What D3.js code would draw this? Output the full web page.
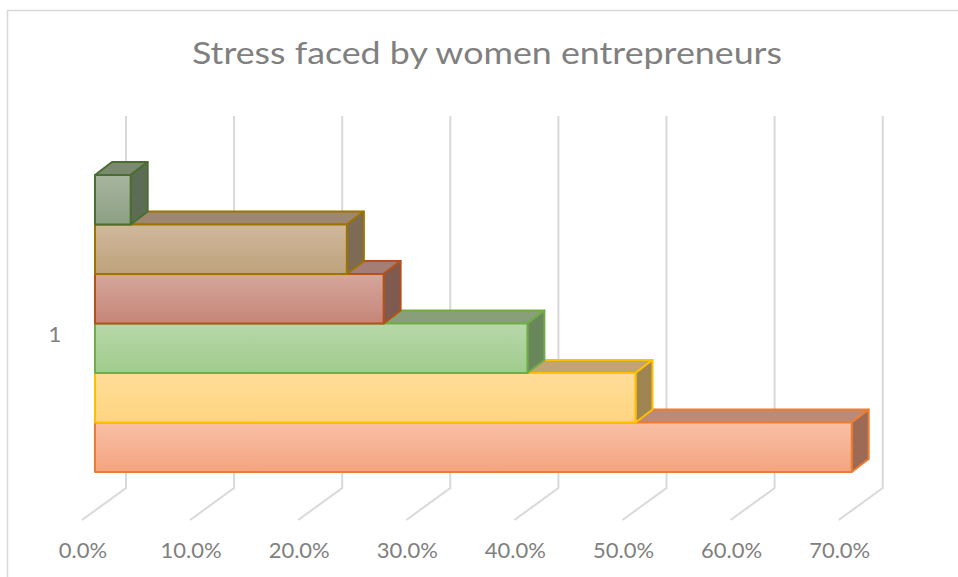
<!DOCTYPE html>
<html>
<head>
<meta charset="utf-8">
<script src="https://cdn.jsdelivr.net/npm/d3@7"></script>
<style>
  html, body { margin: 0; padding: 0; background: #fff; }
  svg { display: block; font-family: Lato, "Open Sans", sans-serif; }
</style>
</head>
<body>
<svg id="chart" width="958" height="577"></svg>
<script>
// chart data (bottom bar first, like Excel draws them)
const title = 'Stress faced by women entrepreneurs';
const categories = ['1'];
const seriesNames = ['Series1', 'Series2', 'Series3', 'Series4', 'Series5', 'Series6'];
const seriesValues = [0.70, 0.50, 0.40, 0.267, 0.233, 0.033];
const tickValues = [0, 0.1, 0.2, 0.3, 0.4, 0.5, 0.6, 0.7];

// face colours per series: front top/bottom gradient, top face, side face, outline
const palette = [
  { hi: '#F9C0A6', lo: '#F4A47F', top: '#BC8B78', side: '#9C6A55', line: '#ED7D31' },
  { hi: '#FFDD98', lo: '#FFD47F', top: '#C3A46E', side: '#9F8551', line: '#FFC000' },
  { hi: '#B7D8A9', lo: '#A1CB8D', top: '#889F7A', side: '#6A875B', line: '#70AD47' },
  { hi: '#D6A69D', lo: '#C48677', top: '#A47D75', side: '#7E5A50', line: '#B4521A' },
  { hi: '#D0B89C', lo: '#BEA27C', top: '#9E8770', side: '#7D6B55', line: '#9C7400' },
  { hi: '#A8B5A0', lo: '#8CA084', top: '#7B8A6F', side: '#5D6D55', line: '#4A6E30' }
];

const svg = d3.select('#chart');
const W = 958, H = 577;

// outer chart border (runs off the right and bottom of the shot)
svg.append('rect')
  .attr('x', 7.5).attr('y', 10.5)
  .attr('width', W + 20).attr('height', H + 20)
  .attr('fill', '#fff')
  .attr('stroke', '#D9D9D9')
  .attr('stroke-width', 1.5);

// title
svg.append('text')
  .attr('x', 487).attr('y', 64)
  .attr('text-anchor', 'middle')
  .attr('font-size', 31)
  .attr('fill', '#808080')
  .attr('textLength', 590)
  .attr('lengthAdjust', 'spacingAndGlyphs')
  .text(title);

// value scale in the plane of the bar fronts
const x = d3.scaleLinear().domain([0, 0.7]).range([95, 95 + 7 * 108.1]);

// oblique depth: floor front edge, bar front/back, back wall
const floorFront = { dx: -13, dy: 9.5 };
const barDepth = { dx: 17, dy: -13 };
const wall = { dx: 31, dy: -22.5 };
const wallTop = 116, wallBottom = 488;

// category band (front bar plane) and series bands inside it
const yCat = d3.scaleBand().domain(categories).range([510.5, 138.5]);
const ySer = d3.scaleBand()
  .domain(d3.range(seriesValues.length))
  .range([yCat(categories[0]) + yCat.bandwidth() - 38.5, yCat(categories[0]) + 36.5]);

// gridlines: vertical on the back wall, diagonal across the floor
const grid = svg.append('g')
  .attr('fill', 'none')
  .attr('stroke', '#D9D9D9')
  .attr('stroke-width', 2);
grid.selectAll('path')
  .data(tickValues)
  .join('path')
  .attr('d', d => {
    const bx = x(d) + wall.dx;
    const fx = x(d) + floorFront.dx;
    return `M${bx},${wallTop}L${bx},${wallBottom}L${fx},${wallBottom + 32}`;
  });

// value labels under the floor edge
svg.append('g')
  .attr('font-size', 22)
  .attr('fill', '#808080')
  .attr('text-anchor', 'middle')
  .selectAll('text')
  .data(tickValues)
  .join('text')
  .attr('x', d => x(d) + floorFront.dx + 1)
  .attr('y', 558)
  .text(d3.format('.1%'));

// category label
svg.append('text')
  .attr('x', 55)
  .attr('y', yCat(categories[0]) + yCat.bandwidth() / 2 + floorFront.dy + 8)
  .attr('font-size', 22)
  .attr('fill', '#808080')
  .attr('text-anchor', 'middle')
  .text(categories[0]);

// gradients for the front faces
const defs = svg.append('defs');
palette.forEach((p, i) => {
  const g = defs.append('linearGradient')
    .attr('id', 'front' + i)
    .attr('x1', 0).attr('y1', 0).attr('x2', 0).attr('y2', 1);
  g.append('stop').attr('offset', '0%').attr('stop-color', p.hi);
  g.append('stop').attr('offset', '100%').attr('stop-color', p.lo);
});

// bars, bottom one first so each upper bar covers the top face below it
const bars = svg.append('g')
  .attr('stroke-width', 2)
  .attr('stroke-linejoin', 'round');

const barData = seriesValues.map((v, i) => ({ name: seriesNames[i], value: v, i }));

barData.forEach(d => {
  const p = palette[d.i];
  const x0 = x(0), x1 = x(d.value);
  const y0 = ySer(d.i), h = ySer.bandwidth();
  const { dx, dy } = barDepth;
  const g = bars.append('g').attr('stroke', p.line);

  g.append('path')
    .attr('fill', p.top)
    .attr('d', `M${x0},${y0}L${x0 + dx},${y0 + dy}L${x1 + dx},${y0 + dy}L${x1},${y0}Z`);
  g.append('path')
    .attr('fill', p.side)
    .attr('d', `M${x1},${y0}L${x1 + dx},${y0 + dy}L${x1 + dx},${y0 + h + dy}L${x1},${y0 + h}Z`);
  g.append('rect')
    .attr('x', x0).attr('y', y0)
    .attr('width', x1 - x0).attr('height', h)
    .attr('fill', `url(#front${d.i})`);
});
</script>
</body>
</html>
